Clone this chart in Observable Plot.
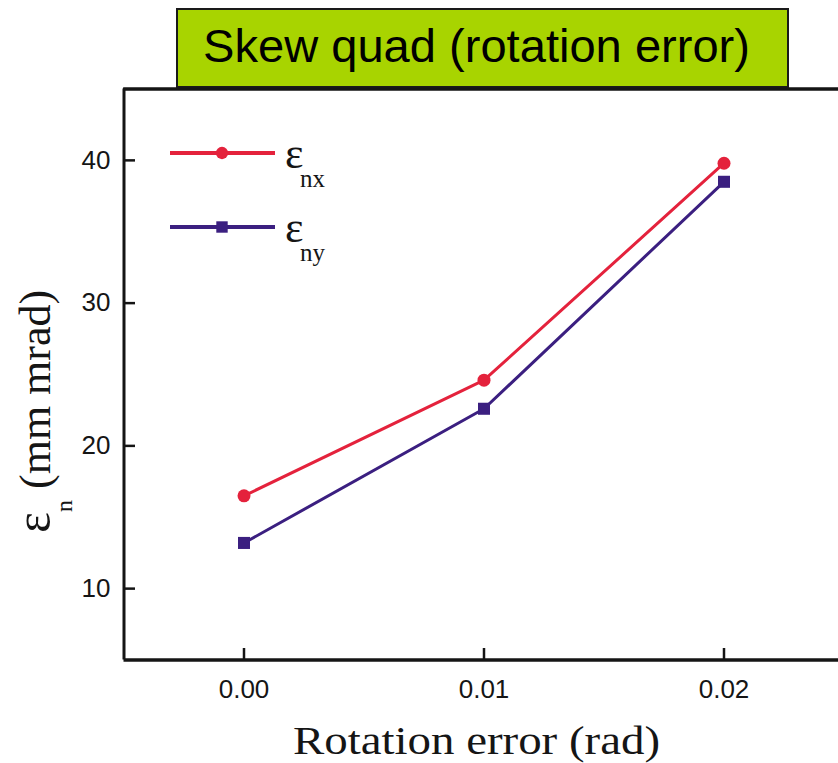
<!DOCTYPE html>
<html><head><meta charset="utf-8">
<script src="https://cdn.jsdelivr.net/npm/d3@7"></script>
<script src="https://cdn.jsdelivr.net/npm/@observablehq/plot@0.6"></script>
<style>
body{margin:0;background:#fff}
#wrap{position:relative;width:838px;height:763px;overflow:hidden;background:#fff}
</style>
</head><body><div id="wrap"></div>
<script>
// ---- data ----
const rotationError = [0.00, 0.01, 0.02];
const emitNx = [16.5, 24.6, 39.8];
const emitNy = [13.2, 22.6, 38.5];
const seriesKeys = ["nx", "ny"];
const seriesColors = ["#e4223c", "#3b1f80"];
const seriesSymbols = ["circle", "square"];
const xTicks = [0.00, 0.01, 0.02];
const yTicks = [10, 20, 30, 40];
const xDomain = [-0.005, 0.025];
const yDomain = [5, 45];
const titleText = "Skew quad (rotation error)";
const xLabelText = "Rotation error (rad)";
const yLabelMain = "\u03B5";
const yLabelSub = "n";
const yLabelRest = " (mm mrad)";

const rows = [];
rotationError.forEach((x, i) => {
  rows.push({x, y: emitNx[i], s: "nx"});
  rows.push({x, y: emitNy[i], s: "ny"});
});

const ink = "#151515";
const svg = Plot.plot({
  width: 838, height: 763,
  marginLeft: 123, marginTop: 88, marginRight: 0, marginBottom: 103,
  x: {domain: xDomain, range: [123.5, 843.5], label: null},
  y: {domain: yDomain, range: [659.5, 88.5], label: null},
  color: {domain: seriesKeys, range: seriesColors},
  symbol: {domain: seriesKeys, range: seriesSymbols},
  style: {fontFamily: "'Liberation Sans', Arial, sans-serif", fontSize: "26px", color: ink, background: "transparent", overflow: "visible"},
  marks: [
    Plot.ruleX([xDomain[0]], {y1: yDomain[0], y2: yDomain[1], stroke: ink, strokeWidth: 3}),
    Plot.ruleY([yDomain[0]], {x1: xDomain[0], x2: xDomain[1], stroke: ink, strokeWidth: 3.5}),
    Plot.ruleY([yDomain[1]], {x1: xDomain[0], x2: xDomain[1], stroke: ink, strokeWidth: 3}),
    Plot.axisX({ticks: xTicks, tickSize: 12, dy: -12, tickFormat: () => "", stroke: ink, strokeWidth: 2.5, label: null}),
    Plot.axisX({ticks: xTicks, tickSize: 0, tickPadding: 19, tickFormat: d3.format(".2f"), fill: ink, label: null}),
    Plot.axisY({ticks: yTicks, tickSize: 12, dx: 12, tickFormat: () => "", stroke: ink, strokeWidth: 2.5, label: null}),
    Plot.axisY({ticks: yTicks, tickSize: 0, tickPadding: 13, tickFormat: d3.format("d"), fill: ink, label: null}),
    Plot.line(rows, {x: "x", y: "y", z: "s", stroke: "s", strokeWidth: 3}),
    Plot.dot(rows.filter(d => d.s === "nx"), {x: "x", y: "y", fill: "s", symbol: "s", r: 6.5}),
    Plot.dot(rows.filter(d => d.s === "ny"), {x: "x", y: "y", fill: "s", symbol: "s", r: 6.8})
  ]
});
document.getElementById("wrap").appendChild(svg);

const s = d3.select(svg);
// title box
s.append("rect").attr("x", 177).attr("y", 9).attr("width", 611).attr("height", 78)
  .attr("fill", "#a8d400").attr("stroke", "#1a1a1a").attr("stroke-width", 2);
s.append("text").attr("x", 203).attr("y", 62).attr("text-anchor", "start")
  .attr("font-family", "'Liberation Sans', Arial, sans-serif").attr("font-size", 46)
  .attr("textLength", 547).attr("lengthAdjust", "spacingAndGlyphs")
  .attr("fill", "#000").text(titleText);
// top frame line over box bottom
s.append("line").attr("x1", 123).attr("x2", 838).attr("y1", 89).attr("y2", 89)
  .attr("stroke", ink).attr("stroke-width", 3);

// x label
s.append("text").attr("x", 293).attr("y", 754).attr("text-anchor", "start")
  .attr("font-family", "'Liberation Serif', 'Times New Roman', serif").attr("font-size", 40)
  .attr("textLength", 367).attr("lengthAdjust", "spacingAndGlyphs")
  .attr("fill", ink).text(xLabelText);

// y label
const yl = s.append("text").attr("transform", "translate(50,533) rotate(-90)").attr("text-anchor", "start")
  .attr("font-family", "'Liberation Serif', 'Times New Roman', serif").attr("font-size", 44).attr("fill", ink);
yl.append("tspan").attr("font-size", 50).text(yLabelMain);
yl.append("tspan").attr("font-size", 24).attr("dy", 22).text(yLabelSub);
yl.append("tspan").attr("dy", -22).text(yLabelRest);

// legend
const legendY = [153, 227];
seriesKeys.forEach((k, i) => {
  const g = s.append("g");
  g.append("line").attr("x1", 170).attr("x2", 275).attr("y1", legendY[i]).attr("y2", legendY[i])
    .attr("stroke", seriesColors[i]).attr("stroke-width", 4);
  g.append("path").attr("transform", `translate(222,${legendY[i]})`)
    .attr("d", d3.symbol(i === 0 ? d3.symbolCircle : d3.symbolSquare, i === 0 ? 120 : 130)())
    .attr("fill", seriesColors[i]);
  const t = g.append("text").attr("x", 285).attr("y", legendY[i] + 15).attr("text-anchor", "start")
    .attr("font-family", "'Liberation Serif', 'Times New Roman', serif").attr("font-size", 44).attr("fill", ink);
  t.append("tspan").text("\u03B5");
  t.append("tspan").attr("x", 300).attr("dy", 19).attr("font-size", 25).text(k);
});
</script>
</body></html>
